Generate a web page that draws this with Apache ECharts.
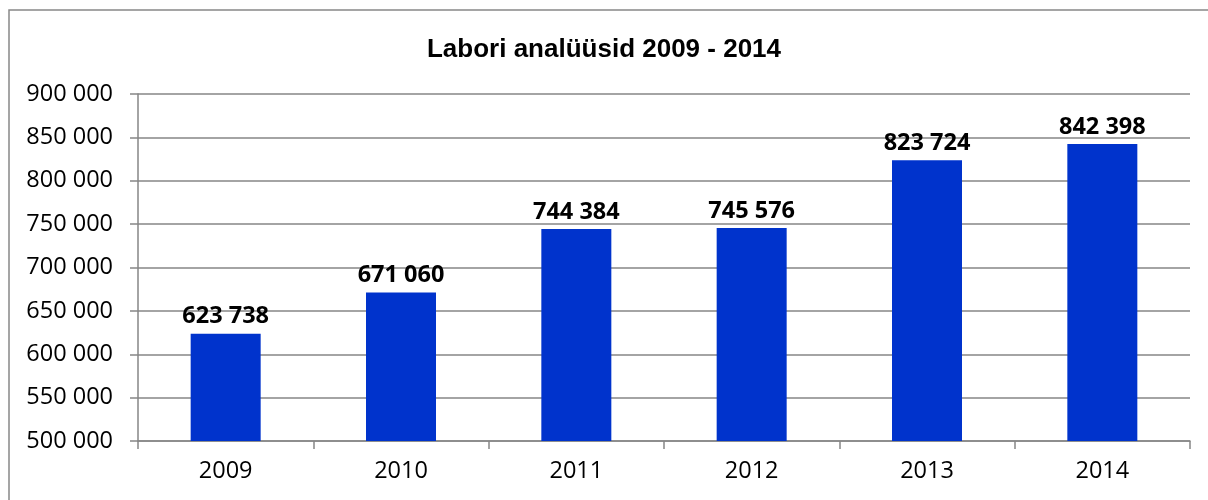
<!DOCTYPE html>
<html>
<head>
<meta charset="utf-8">
<script src="https://cdn.jsdelivr.net/npm/echarts@6/dist/echarts.min.js"></script>
<style>
html,body{margin:0;padding:0;background:#fff;}
#chart{width:1208px;height:500px;}
</style>
</head>
<body>
<div id="chart"></div>
<script>
const titleText = 'Labori analüüsid 2009 - 2014';
const categories = ['2009', '2010', '2011', '2012', '2013', '2014'];
const values = [623738, 671060, 744384, 745576, 823724, 842398];
const yMin = 500000, yMax = 900000, yStep = 50000;

function fmt(v) {
  return String(v).replace(/\B(?=(\d{3})+(?!\d))/g, ' ');
}

const chart = echarts.init(document.getElementById('chart'));
chart.setOption({
  animation: false,
  backgroundColor: '#ffffff',
  graphic: [{
    type: 'rect',
    shape: { x: 9, y: 10, width: 1220, height: 520 },
    style: { fill: 'none', stroke: '#888888', lineWidth: 1.5 },
    z: -1
  }],
  title: {
    text: titleText,
    left: 'center',
    top: 32,
    textStyle: { fontFamily: 'Liberation Sans', fontWeight: 'bold', fontSize: 26, color: '#000' }
  },
  grid: { left: 138, right: 18, top: 94, bottom: 59, containLabel: false },
  xAxis: {
    type: 'category',
    data: categories,
    axisLine: { lineStyle: { color: '#868686', width: 1.5 } },
    axisTick: { show: true, length: 8, alignWithLabel: false, lineStyle: { color: '#868686', width: 1.5 } },
    axisLabel: { fontFamily: 'Open Sans', fontSize: 23.5, color: '#000', margin: 18 }
  },
  yAxis: {
    type: 'value',
    min: yMin, max: yMax, interval: yStep,
    axisLine: { show: true, lineStyle: { color: '#868686', width: 1.5 } },
    axisTick: { show: true, length: 8, lineStyle: { color: '#868686', width: 1.5 } },
    splitLine: { show: true, lineStyle: { color: '#868686', width: 1.5 } },
    axisLabel: { fontFamily: 'Open Sans', fontSize: 23.5, color: '#000', margin: 25, formatter: fmt }
  },
  series: [{
    type: 'bar',
    data: values,
    barWidth: 70,
    itemStyle: { color: '#0033CC' },
    label: {
      show: true,
      position: 'top',
      distance: 5,
      fontFamily: 'Open Sans',
      fontWeight: 'bold',
      fontSize: 23.5,
      color: '#000',
      formatter: p => fmt(p.value)
    }
  }]
});
</script>
</body>
</html>
